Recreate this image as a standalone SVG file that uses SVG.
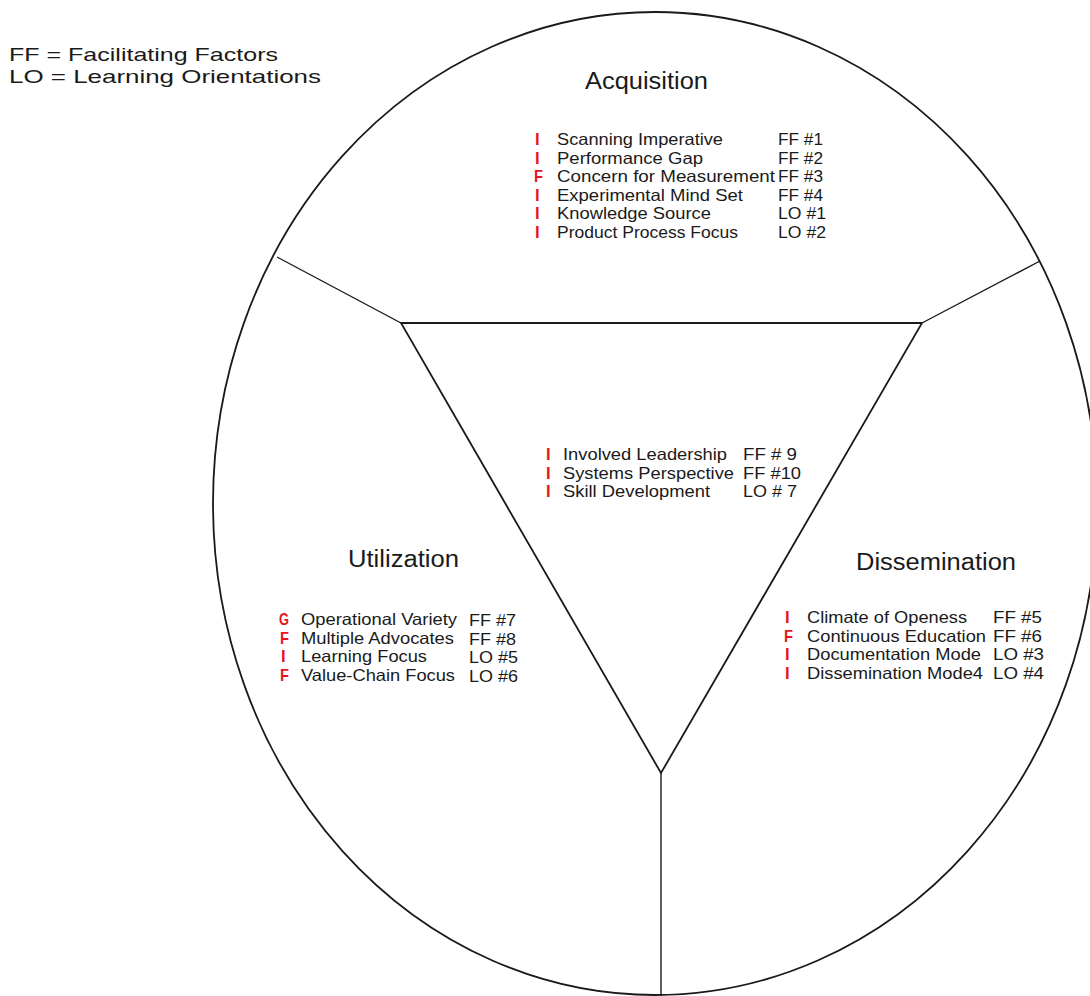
<svg xmlns="http://www.w3.org/2000/svg" width="1090" height="996" viewBox="0 0 1090 996">
<style>
.t{font-family:"Liberation Sans",Arial,Helvetica,sans-serif;fill:#1a1a1a}
.item{font-size:16.5px}
.code{font-size:16.5px}
.head{font-size:23.5px}
.legend{font-size:19px}
.mk{font-family:"Liberation Sans",Arial,Helvetica,sans-serif;font-weight:bold;font-size:16.5px;fill:#e8141c}
.shape{fill:none;stroke:#1a1a1a;stroke-width:1.8}
.div{fill:none;stroke:#1a1a1a;stroke-width:1.4}
</style>
<rect width="1090" height="996" fill="#ffffff"/>
<g id="frame">
<ellipse class="shape" cx="655" cy="503.5" rx="442" ry="491.5"/>
<polygon class="shape" points="401,323 922,323 661,773" stroke-linejoin="miter"/>
</g>
<g id="connectors">
<line class="div" x1="277" y1="257" x2="401" y2="323"/>
<line class="div" x1="922" y1="323" x2="1040" y2="261"/>
<line class="div" x1="661" y1="773" x2="661" y2="996"/>
</g>
<g id="legend">
<text class="t legend" x="9" y="61" textLength="269" lengthAdjust="spacingAndGlyphs">FF = Facilitating Factors</text>
<text class="t legend" x="9" y="83" textLength="312" lengthAdjust="spacingAndGlyphs">LO = Learning Orientations</text>
</g>
<g id="acquisition">
<text class="t head" x="585" y="89" textLength="123" lengthAdjust="spacingAndGlyphs">Acquisition</text>
<text class="mk" x="535" y="145">I</text>
<text class="mk" x="535" y="163.5">I</text>
<text class="mk" x="534" y="182" textLength="9" lengthAdjust="spacingAndGlyphs">F</text>
<text class="mk" x="535" y="200.5">I</text>
<text class="mk" x="535" y="219">I</text>
<text class="mk" x="535" y="237.5">I</text>
<text class="t item" x="557" y="145" textLength="166" lengthAdjust="spacingAndGlyphs">Scanning Imperative</text>
<text class="t item" x="557" y="163.5" textLength="146" lengthAdjust="spacingAndGlyphs">Performance Gap</text>
<text class="t item" x="557" y="182" textLength="218" lengthAdjust="spacingAndGlyphs">Concern for Measurement</text>
<text class="t item" x="557" y="200.5" textLength="186" lengthAdjust="spacingAndGlyphs">Experimental Mind Set</text>
<text class="t item" x="557" y="219" textLength="154" lengthAdjust="spacingAndGlyphs">Knowledge Source</text>
<text class="t item" x="557" y="237.5" textLength="181" lengthAdjust="spacingAndGlyphs">Product Process Focus</text>
<text class="t code" x="778" y="145" textLength="45" lengthAdjust="spacingAndGlyphs">FF #1</text>
<text class="t code" x="778" y="163.5" textLength="45" lengthAdjust="spacingAndGlyphs">FF #2</text>
<text class="t code" x="778" y="182" textLength="45" lengthAdjust="spacingAndGlyphs">FF #3</text>
<text class="t code" x="778" y="200.5" textLength="45" lengthAdjust="spacingAndGlyphs">FF #4</text>
<text class="t code" x="778" y="219" textLength="48" lengthAdjust="spacingAndGlyphs">LO #1</text>
<text class="t code" x="778" y="237.5" textLength="48" lengthAdjust="spacingAndGlyphs">LO #2</text>
</g>
<g id="center">
<text class="mk" x="546" y="460">I</text>
<text class="mk" x="546" y="478.5">I</text>
<text class="mk" x="546" y="497">I</text>
<text class="t item" x="563" y="460" textLength="164" lengthAdjust="spacingAndGlyphs">Involved Leadership</text>
<text class="t item" x="563" y="478.5" textLength="171" lengthAdjust="spacingAndGlyphs">Systems Perspective</text>
<text class="t item" x="563" y="497" textLength="147" lengthAdjust="spacingAndGlyphs">Skill Development</text>
<text class="t code" x="743" y="460" textLength="54" lengthAdjust="spacingAndGlyphs">FF # 9</text>
<text class="t code" x="743" y="478.5" textLength="58" lengthAdjust="spacingAndGlyphs">FF #10</text>
<text class="t code" x="743" y="497" textLength="54" lengthAdjust="spacingAndGlyphs">LO # 7</text>
</g>
<g id="utilization">
<text class="t head" x="348" y="567" textLength="111" lengthAdjust="spacingAndGlyphs">Utilization</text>
<text class="mk" x="279" y="625" textLength="10" lengthAdjust="spacingAndGlyphs">G</text>
<text class="mk" x="280" y="643.5" textLength="9" lengthAdjust="spacingAndGlyphs">F</text>
<text class="mk" x="281" y="662">I</text>
<text class="mk" x="280" y="680.5" textLength="9" lengthAdjust="spacingAndGlyphs">F</text>
<text class="t item" x="301" y="625" textLength="156" lengthAdjust="spacingAndGlyphs">Operational Variety</text>
<text class="t item" x="301" y="643.5" textLength="153" lengthAdjust="spacingAndGlyphs">Multiple Advocates</text>
<text class="t item" x="301" y="662" textLength="126" lengthAdjust="spacingAndGlyphs">Learning Focus</text>
<text class="t item" x="301" y="680.5" textLength="154" lengthAdjust="spacingAndGlyphs">Value-Chain Focus</text>
<text class="t code" x="469" y="626" textLength="47" lengthAdjust="spacingAndGlyphs">FF #7</text>
<text class="t code" x="469" y="644.5" textLength="47" lengthAdjust="spacingAndGlyphs">FF #8</text>
<text class="t code" x="469" y="663" textLength="49" lengthAdjust="spacingAndGlyphs">LO #5</text>
<text class="t code" x="469" y="681.5" textLength="49" lengthAdjust="spacingAndGlyphs">LO #6</text>
</g>
<g id="dissemination">
<text class="t head" x="856" y="570" textLength="160" lengthAdjust="spacingAndGlyphs">Dissemination</text>
<text class="mk" x="785" y="623">I</text>
<text class="mk" x="784" y="641.5" textLength="9" lengthAdjust="spacingAndGlyphs">F</text>
<text class="mk" x="785" y="660">I</text>
<text class="mk" x="785" y="678.5">I</text>
<text class="t item" x="807" y="623" textLength="160" lengthAdjust="spacingAndGlyphs">Climate of Openess</text>
<text class="t item" x="807" y="641.5" textLength="179" lengthAdjust="spacingAndGlyphs">Continuous Education</text>
<text class="t item" x="807" y="660" textLength="174" lengthAdjust="spacingAndGlyphs">Documentation Mode</text>
<text class="t item" x="807" y="678.5" textLength="176" lengthAdjust="spacingAndGlyphs">Dissemination Mode4</text>
<text class="t code" x="993" y="623" textLength="49" lengthAdjust="spacingAndGlyphs">FF #5</text>
<text class="t code" x="993" y="641.5" textLength="49" lengthAdjust="spacingAndGlyphs">FF #6</text>
<text class="t code" x="993" y="660" textLength="51" lengthAdjust="spacingAndGlyphs">LO #3</text>
<text class="t code" x="993" y="678.5" textLength="51" lengthAdjust="spacingAndGlyphs">LO #4</text>
</g>
</svg>
